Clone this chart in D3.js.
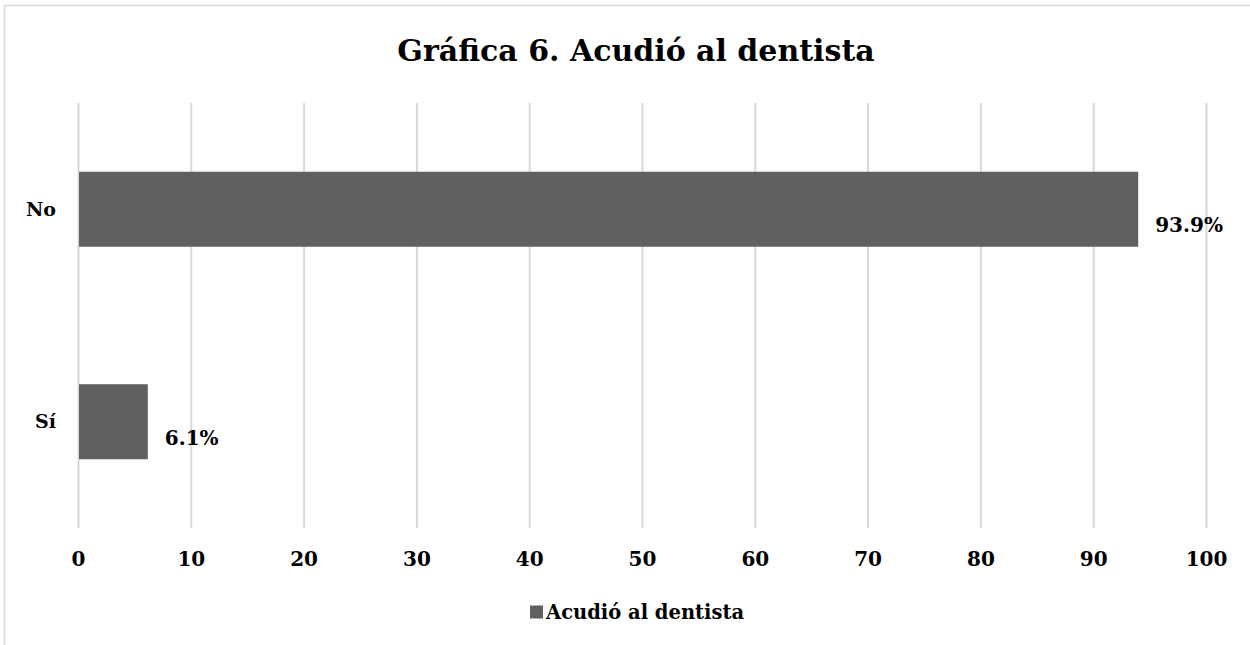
<!DOCTYPE html>
<html>
<head>
<meta charset="utf-8">
<script src="https://cdn.jsdelivr.net/npm/d3@7"></script>
<style>
  body { margin: 0; background: #fff; }
  svg text { font-family: "DejaVu Serif", serif; font-weight: bold; fill: #000; }
</style>
</head>
<body>
<svg id="chart" width="1250" height="645"></svg>
<script>
// chart data
const categories = ["No", "Sí"];
const values = [93.9, 6.1];
const valueLabels = ["93.9%", "6.1%"];
const xTicks = [0, 10, 20, 30, 40, 50, 60, 70, 80, 90, 100];
const seriesName = "Acudió al dentista";
const title = "Gráfica 6. Acudió al dentista";

const svg = d3.select("#chart");
const margin = { top: 103, right: 44, bottom: 117, left: 78 };
const width = 1250 - margin.left - margin.right;
const height = 645 - margin.top - margin.bottom;

// outer chart border
svg.append("rect")
    .attr("x", 4.5).attr("y", 5.5)
    .attr("width", 1260).attr("height", 660)
    .attr("fill", "none")
    .attr("stroke", "#d9d9d9")
    .attr("stroke-width", 1.5);

const g = svg.append("g")
    .attr("transform", "translate(" + margin.left + "," + margin.top + ")");

const x = d3.scaleLinear().domain([0, 100]).range([0, width]);
const y = d3.scaleBand()
    .domain(categories)
    .range([0, height])
    .paddingInner(0.647)
    .paddingOuter(0.3235);

// vertical gridlines
g.selectAll(".grid")
    .data(xTicks)
    .enter()
    .append("line")
    .attr("class", "grid")
    .attr("x1", (d) => x(d) + 0.5)
    .attr("x2", (d) => x(d) + 0.5)
    .attr("y1", 0)
    .attr("y2", height)
    .attr("stroke", "#d9d9d9")
    .attr("stroke-width", 2);

// bars
g.selectAll(".bar")
    .data(values)
    .enter()
    .append("rect")
    .attr("class", "bar")
    .attr("x", x(0) + 1)
    .attr("y", (d, i) => y(categories[i]))
    .attr("width", (d) => x(d) - x(0))
    .attr("height", y.bandwidth())
    .attr("fill", "#606060");

// value labels
g.selectAll(".value-label")
    .data(values)
    .enter()
    .append("text")
    .attr("class", "value-label")
    .attr("x", (d) => x(d) + 18)
    .attr("y", (d, i) => y(categories[i]) + y.bandwidth() / 2 + 16)
    .attr("dy", "0.35em")
    .style("font-size", "20px")
    .text((d, i) => valueLabels[i]);

// category axis labels
g.selectAll(".cat-label")
    .data(categories)
    .enter()
    .append("text")
    .attr("class", "cat-label")
    .attr("x", -22)
    .attr("y", (d) => y(d) + y.bandwidth() / 2)
    .attr("dy", "0.35em")
    .attr("text-anchor", "end")
    .style("font-size", "19px")
    .text((d) => d);

// x axis tick labels
const xAxis = d3.axisBottom(x).tickValues(xTicks).tickSize(0).tickPadding(24);
const axisG = g.append("g")
    .attr("transform", "translate(0," + height + ")")
    .call(xAxis);
axisG.select(".domain").remove();
axisG.selectAll("text")
    .style("font-family", "'DejaVu Serif', serif")
    .style("font-weight", "bold")
    .style("font-size", "20px")
    .attr("fill", "#000");

// title
svg.append("text")
    .attr("x", 636)
    .attr("y", 50)
    .attr("dy", "0.35em")
    .attr("text-anchor", "middle")
    .style("font-size", "30px")
    .text(title);

// legend
const legend = svg.append("g").attr("transform", "translate(530,612)");
legend.append("rect")
    .attr("x", 0).attr("y", -6.5)
    .attr("width", 13).attr("height", 13)
    .attr("fill", "#606060");
legend.append("text")
    .attr("x", 16)
    .attr("y", 0)
    .attr("dy", "0.35em")
    .style("font-size", "19.5px")
    .text(seriesName);
</script>
</body>
</html>
